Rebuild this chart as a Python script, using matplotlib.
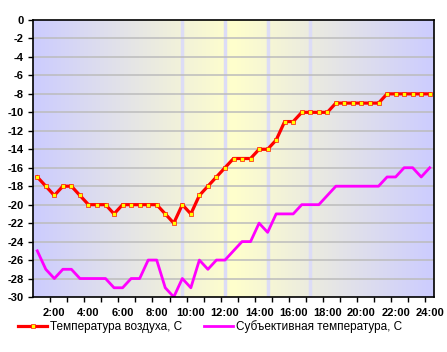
import numpy as np
import matplotlib.pyplot as plt

plt.rcParams.update({'font.family': ['Liberation Sans', 'DejaVu Sans'], 'font.size': 8})

# half-hourly readings from 1:00 to 24:00
hours = np.arange(1.0, 24.01, 0.5)
air_temp = [-17, -18, -19, -18, -18, -19, -20, -20, -20, -21, -20, -20, -20, -20,
            -20, -21, -22, -20, -21, -19, -18, -17, -16, -15, -15, -15, -14, -14,
            -13, -11, -11, -10, -10, -10, -10, -9, -9, -9, -9, -9, -9, -8, -8, -8,
            -8, -8, -8]
feels_temp = [-25, -27, -28, -27, -27, -28, -28, -28, -28, -29, -29, -28, -28, -26,
              -26, -29, -30, -28, -29, -26, -27, -26, -26, -25, -24, -24, -22, -23,
              -21, -21, -21, -20, -20, -20, -19, -18, -18, -18, -18, -18, -18, -17,
              -17, -16, -16, -17, -16]
marker_hours = [9.5, 12.0, 14.5, 17.0]
xtick_hours = list(range(2, 25, 2))
xtick_labels = ['%d:00' % h for h in xtick_hours]
labels = ['Температура воздуха, С', 'Субъективная температура, С']

fig = plt.figure(figsize=(4.47, 3.52), dpi=100)
ax = fig.add_axes([33/447, 55/352, 401/447, 277/352])

# blue -> yellow -> blue background
blue = np.array([204, 204, 255]) / 255
yellow = np.array([255, 255, 204]) / 255
w = 1 - np.abs(np.linspace(-1, 1, 400))
grad = blue[None, :] * (1 - w[:, None]) + yellow[None, :] * w[:, None]
ax.imshow(grad[None, :, :], extent=[0, 1, 0, 1], transform=ax.transAxes,
          aspect='auto', zorder=0)

for h in marker_hours:
    ax.axvline(h, color='#dcdcf6', lw=2.5, zorder=1)
for y in range(-28, 0, 2):
    ax.axhline(y, color='#bcbcbc', lw=1.1, zorder=1.5)

ax.plot(hours, air_temp, color='red', lw=2.3, marker='s', ms=2.7,
        mfc='yellow', mec='red', mew=0.45, zorder=3, label=labels[0])
ax.plot(hours, feels_temp, color='#ff00ff', lw=2.0, zorder=2, label=labels[1])

ax.set_xlim(0.75, 24.25)
ax.set_ylim(-30, 0)
ax.set_yticks(range(-30, 1, 2))
ax.set_yticklabels([str(v) for v in range(-30, 1, 2)], fontweight='bold')
ax.set_xticks(xtick_hours)
ax.set_xticklabels(xtick_labels, fontweight='bold')
ax.set_xticks(np.arange(1.75, 24, 1.0), minor=True)
ax.tick_params(axis='x', which='major', length=0, pad=8)
ax.tick_params(axis='x', which='minor', length=3.5, width=1)
ax.tick_params(axis='y', length=3.5, width=1, pad=3)
for s in ax.spines.values():
    s.set_linewidth(1.2)

fig.legend(loc='center', bbox_to_anchor=(210/447, 1 - 327/352), ncol=2,
           frameon=False, handlelength=2.4, columnspacing=1.9, fontsize=8.5,
           handletextpad=0.25)

fig.savefig('out.png', dpi=100)
